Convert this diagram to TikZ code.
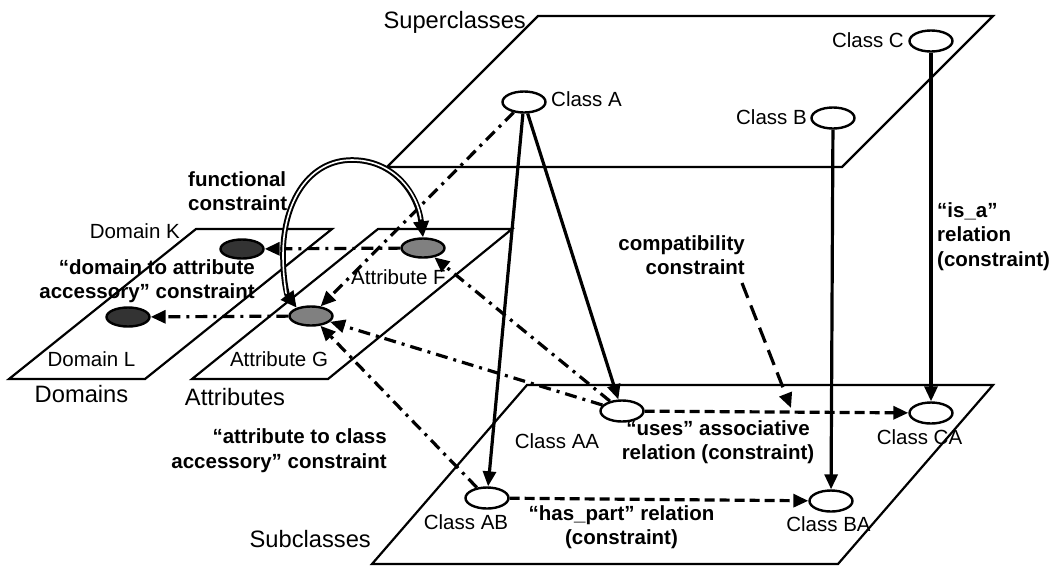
\documentclass[tikz,border=0pt]{standalone}
\usepackage{fontspec}
\setmainfont{Liberation Sans}
\usetikzlibrary{shapes.geometric,arrows.meta,calc}
\definecolor{domfill}{HTML}{333333}
\definecolor{attfill}{HTML}{808080}
\begin{document}
\begin{tikzpicture}[x=1pt,y=-1pt,
  plane/.style={draw, line width=2.2pt, line join=miter},
  cls/.style={ellipse, draw, line width=2.4pt, fill=white, minimum width=43pt, minimum height=21pt, inner sep=0pt},
  dom/.style={ellipse, draw, line width=2.4pt, fill=domfill, minimum width=43pt, minimum height=19pt, inner sep=0pt},
  att/.style={ellipse, draw, line width=2.4pt, fill=attfill, minimum width=43pt, minimum height=19pt, inner sep=0pt},
  lbl/.style={font=\fontsize{20.5}{24.5}\selectfont, inner sep=0pt},
  big/.style={font=\fontsize{23.7}{28}\selectfont, inner sep=0pt},
  blbl/.style={font=\fontsize{20.5}{24.5}\selectfont\bfseries, inner sep=0pt},
  tip/.style={-{Triangle[length=15pt,width=13pt]}},
  sline/.style={line width=3.2pt, tip},
  ddline/.style={line width=3.2pt, dash pattern=on 12pt off 6pt on 3pt off 6pt, tip},
  dline/.style={line width=3.2pt, dash pattern=on 10pt off 5pt, tip},
  ldline/.style={line width=3.2pt, dash pattern=on 16pt off 8pt, tip},
]
\useasboundingbox (0,0) rectangle (1054,566);

% planes
\draw[plane] (387,167) -- (538,16) -- (993,16) -- (842,167) -- cycle;
\draw[plane] (372,564) -- (527,385) -- (993,385) -- (838,564) -- cycle;
\draw[plane] (9,379) -- (196,229) -- (332,229) -- (145,379) -- cycle;
\draw[plane] (192,379) -- (378,229) -- (512,229) -- (328,379) -- cycle;

% nodes
\node[cls] (A) at (524,102) {};
\node[cls] (B) at (833,118) {};
\node[cls] (C) at (931,41) {};
\node[cls] (AA) at (622,411) {};
\node[cls] (AB) at (487,498) {};
\node[cls] (CA) at (931,413) {};
\node[cls] (BA) at (831,501) {};
\node[dom] (K) at (242,249) {};
\node[dom] (L) at (128,317) {};
\node[att] (F) at (423,248) {};
\node[att] (G) at (311,316) {};

% plain labels
\node[big, anchor=base east] (tsup) at (526,28.5) {Superclasses};
\node[big, anchor=base east] (tsub) at (371,547) {Subclasses};
\node[big, anchor=base] (tdoms) at (81.5,402.7) {Domains};
\node[big, anchor=base] (tatts) at (235,405) {Attributes};
\node[lbl, anchor=base west] (tA) at (551,106) {Class A};
\node[lbl, anchor=base east] (tC) at (904,47.3) {Class C};
\node[lbl, anchor=base east] (tB) at (807,124) {Class B};
\node[lbl, anchor=base] (tAA) at (557,448.3) {Class AA};
\node[lbl, anchor=base] (tAB) at (466,529.3) {Class AB};
\node[lbl, anchor=base] (tCA) at (919.5,444.3) {Class CA};
\node[lbl, anchor=base] (tBA) at (828.5,531.7) {Class BA};
\node[lbl, anchor=base east] (tK) at (180,238.5) {Domain K};
\node[lbl, anchor=base] (tL) at (91.5,366.7) {Domain L};
\node[lbl, anchor=base] (tG) at (279,366.7) {Attribute G};
\node[lbl, anchor=base] (tF) at (398.5,284) {Attribute F};

% bold labels
\node[blbl, align=left, anchor=north west] (lfun) at (188,171.2) {functional\\constraint};
\node[blbl, align=right, anchor=north east] (ldom) at (255,259.2) {“domain to attribute\\accessory” constraint};
\node[blbl, align=right, anchor=north east] (latt) at (387,428.5) {“attribute to class\\accessory” constraint};
\node[blbl, align=center, anchor=north] (luses) at (718,420.2) {“uses” associative\\relation (constraint)};
\node[blbl, align=center, anchor=north] (lhas) at (621.5,505.2) {“has\_part” relation\\(constraint)};
\node[blbl, align=right, anchor=north east] (lcomp) at (745,235.2) {compatibility\\constraint};
\node[blbl, align=left, anchor=north west] (lisa) at (937,202) {“is\_a”\\relation\\(constraint)};

% connectors
\draw[sline] (A) -- (AB);
\draw[sline] (A) -- (AA);
\draw[sline] (B) -- (BA);
\draw[sline] (C) -- (CA);
\draw[ddline] (A) -- (G);
\draw[ddline] (AA) -- (F);
\draw[ddline] (AA) -- (G);
\draw[ddline] (AB) -- (G);
\draw[ddline] (F) -- (K);
\draw[ddline] (G) -- (L);
\draw[dline] (AA) -- (CA);
\draw[dline] (AB) -- (BA);
\coordinate (cs) at (742,283);
\coordinate (ce) at (791,408);
\draw[ldline] (cs) -- (ce);

% functional constraint (double arc)
\draw[line width=5.6pt, {Triangle[length=16pt,width=15pt]}-{Triangle[length=16pt,width=15pt]}]
  (G.150) .. controls (287,295) and (283,280) .. (283,255)
  .. controls (283,200) and (310,160) .. (352,160)
  .. controls (395,160) and (418,195) .. (F.north);
\draw[white, line width=1.6pt, shorten <=18pt, shorten >=18pt]
  (G.150) .. controls (287,295) and (283,280) .. (283,255)
  .. controls (283,200) and (310,160) .. (352,160)
  .. controls (395,160) and (418,195) .. (F.north);
\end{tikzpicture}
\end{document}
